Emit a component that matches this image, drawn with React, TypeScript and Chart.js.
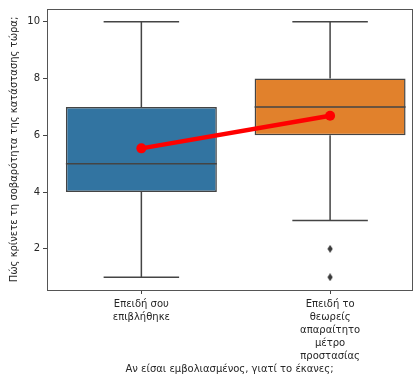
import React, { useEffect, useRef } from "react";
import { Chart, registerables } from "chart.js";

Chart.register(...registerables);

const categories: string[][] = [
  ["Επειδή σου", "επιβλήθηκε"],
  ["Επειδή το", "θεωρείς", "απαραίτητο", "μέτρο", "προστασίας"],
];
const whiskerLow = [1, 3];
const q1 = [4, 6];
const medians = [5, 7];
const q3 = [7, 8];
const whiskerHigh = [10, 10];
const means = [5.54, 6.69];
const outliers: number[][] = [[], [2, 1]];
const yTicks = [2, 4, 6, 8, 10];
const boxColors = ["#3274a1", "#e1812c"];
const xTitle = "Αν είσαι εμβολιασμένος, γιατί το έκανες;";
const yTitle = "Πώς κρίνετε τη σοβαρότητα της κατάστασης τώρα;";

const EDGE = "#444444";
const FONT = "'DejaVu Sans', sans-serif";

function makeDiamond(): HTMLCanvasElement {
  const c = document.createElement("canvas");
  c.width = 6;
  c.height = 8;
  const g = c.getContext("2d")!;
  g.fillStyle = "#3a3a3a";
  g.beginPath();
  g.moveTo(3, 0);
  g.lineTo(5.6, 4);
  g.lineTo(3, 8);
  g.lineTo(0.4, 4);
  g.closePath();
  g.fill();
  return c;
}

export default function App() {
  const ref = useRef<HTMLCanvasElement>(null);
  useEffect(() => {
    document.body.style.margin = "0";
    const BAR_INDEX = 2;
    const boxPlugin = {
      id: "boxParts",
      afterDatasetDraw(chart: any, args: any) {
        if (args.index !== BAR_INDEX) return;
        const ctx = chart.ctx;
        const ys = chart.scales.y;
        const meta = args.meta;
        ctx.save();
        ctx.strokeStyle = EDGE;
        ctx.lineWidth = 1.5;
        meta.data.forEach((el: any, i: number) => {
          const x = el.x;
          const w = el.width;
          const yl = ys.getPixelForValue(whiskerLow[i]);
          const yq1 = ys.getPixelForValue(q1[i]);
          const yq3 = ys.getPixelForValue(q3[i]);
          const yh = ys.getPixelForValue(whiskerHigh[i]);
          const ym = ys.getPixelForValue(medians[i]);
          ctx.beginPath();
          ctx.moveTo(x, yq1);
          ctx.lineTo(x, yl);
          ctx.moveTo(x, yq3);
          ctx.lineTo(x, yh);
          ctx.moveTo(x - w / 4, yl);
          ctx.lineTo(x + w / 4, yl);
          ctx.moveTo(x - w / 4, yh);
          ctx.lineTo(x + w / 4, yh);
          ctx.moveTo(x - w / 2, ym);
          ctx.lineTo(x + w / 2, ym);
          ctx.stroke();
        });
        ctx.restore();
      },
      afterDraw(chart: any) {
        const a = chart.chartArea;
        const ctx = chart.ctx;
        ctx.save();
        ctx.strokeStyle = "#555555";
        ctx.lineWidth = 1;
        ctx.strokeRect(Math.round(a.left) + 0.5, Math.round(a.top) + 0.5, Math.round(a.right - a.left), Math.round(a.bottom - a.top));
        ctx.restore();
      },
    };

    const outlierPts: { x: number; y: number }[] = [];
    outliers.forEach((arr, i) => arr.forEach((v) => outlierPts.push({ x: i, y: v })));

    const chart = new Chart(ref.current!, {
      type: "bar",
      data: {
        datasets: [
          {
            type: "line",
            data: means.map((m, i) => ({ x: i, y: m })),
            borderColor: "#ff0000",
            backgroundColor: "#ff0000",
            borderWidth: 4.5,
            pointRadius: 5,
            pointBackgroundColor: "#ff0000",
            pointBorderWidth: 0,
          } as any,
          {
            type: "scatter",
            data: outlierPts,
            pointStyle: makeDiamond(),
            pointRadius: 4,
            backgroundColor: "#3a3a3a",
            borderColor: "#3a3a3a",
          } as any,
          {
            type: "bar",
            data: q1.map((v, i) => ({ x: i, y: [v, q3[i]] })),
            backgroundColor: boxColors,
            borderColor: EDGE,
            borderWidth: 1.5,
            borderSkipped: false,
            barPercentage: 1,
            categoryPercentage: 0.8,
          } as any,
        ],
      },
      options: {
        responsive: false,
        animation: false,
        events: [],
        layout: { padding: { left: 0, top: 8, right: 4, bottom: 6 } },
        plugins: { legend: { display: false }, tooltip: { enabled: false } },
        scales: {
          x: {
            type: "linear",
            offset: false,
            min: -0.5,
            max: 1.434,
            afterBuildTicks(scale: any) {
              scale.ticks = categories.map((_, i) => ({ value: i }));
            },
            afterFit(scale: any) {
              scale.height = 85;
            },
            ticks: {
              autoSkip: false,
              maxRotation: 0,
              padding: 4,
              color: "#262626",
              font: { family: FONT, size: 10, lineHeight: 1.3 },
              callback: (v: any) => categories[v as number] ?? "",
            },
            grid: { display: true, offset: false, drawOnChartArea: false, drawTicks: true, tickLength: 4, color: "#444" },
            border: { display: false },
            title: {
              display: true,
              text: xTitle,
              color: "#262626",
              font: { family: FONT, size: 10 },
              padding: { top: 0, bottom: 0 },
            },
          },
          y: {
            type: "linear",
            min: 0.55,
            max: 10.45,
            afterBuildTicks(scale: any) {
              scale.ticks = yTicks.map((v) => ({ value: v }));
            },
            afterFit(scale: any) {
              scale.width = 47;
            },
            ticks: {
              padding: 3,
              color: "#262626",
              font: { family: FONT, size: 10 },
            },
            grid: { display: true, drawOnChartArea: false, drawTicks: true, tickLength: 4, color: "#444" },
            border: { display: false },
            title: {
              display: true,
              text: yTitle,
              color: "#262626",
              font: { family: FONT, size: 10 },
              padding: { top: 8, bottom: 0 },
            },
          },
        },
      },
      plugins: [boxPlugin],
    } as any);
    return () => chart.destroy();
  }, []);
  return <canvas ref={ref} width={417} height={381} style={{ display: "block" }} />;
}
